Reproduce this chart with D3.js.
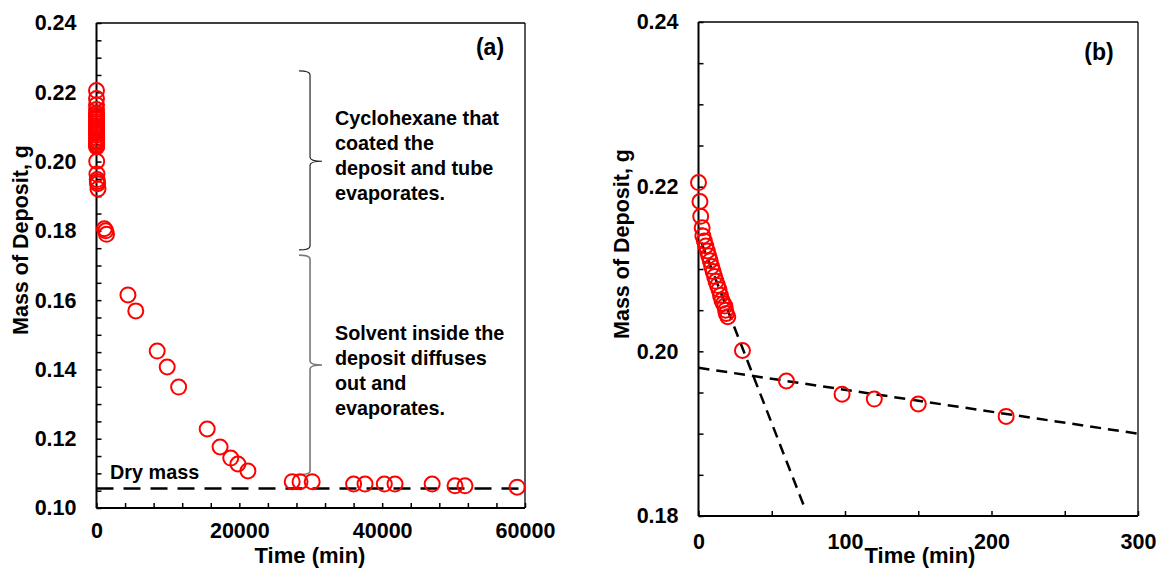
<!DOCTYPE html>
<html><head><meta charset="utf-8">
<script src="https://cdn.jsdelivr.net/npm/d3@7"></script>
<style>
html,body{margin:0;padding:0;background:#fff;}
svg{display:block;font-family:"Liberation Sans",Arial,sans-serif;font-weight:bold;}
</style></head><body>
<svg id="chart" width="1157" height="569"></svg>
<script>
// ---------------- data ----------------
const timeMin = [0, 1, 1.5, 2.5, 3, 4, 5, 6, 7, 8, 9, 10, 11, 12, 13, 14, 15, 16, 17, 18, 18.5, 19, 20,
  30, 60, 98, 120, 150, 210,
  1100, 1300, 1400,
  4400, 5500, 8500, 9900, 11500, 15500, 17300, 18800, 19800, 21200,
  27400, 28500, 30200, 36000, 37600, 40300, 41800, 47000, 50200, 51600, 58900];
const massG = [0.2205, 0.2182, 0.2164, 0.2150, 0.2140, 0.2134, 0.2128, 0.2122, 0.2116, 0.2110, 0.2103, 0.2097, 0.2091, 0.2085, 0.2080, 0.2075, 0.2068, 0.2062, 0.2058, 0.2055, 0.2050, 0.2046, 0.2042,
  0.2001, 0.1964, 0.1948, 0.1942, 0.1936, 0.1921,
  0.1806, 0.1800, 0.1790,
  0.1615, 0.1569, 0.1453, 0.1407, 0.1349, 0.1228, 0.1176, 0.1144, 0.1127, 0.1107,
  0.1076, 0.1076, 0.1076, 0.1069, 0.1069, 0.1069, 0.1069, 0.1069, 0.1064, 0.1064, 0.1060];
const dryMass = 0.1056;
const steepFitTime = [2, 72];
const steepFitMass = [0.2132, 0.1812];
const slowFitTime = [0, 300];
const slowFitMass = [0.1980, 0.1900];
const xLabelsA = [0, 20000, 40000, 60000];
const yLabelsA = [0.10, 0.12, 0.14, 0.16, 0.18, 0.20, 0.22, 0.24];
const xLabelsB = [0, 100, 200, 300];
const yLabelsB = [0.18, 0.20, 0.22, 0.24];
const braceTexts = [
  ["Cyclohexane that", "coated the", "deposit and tube", "evaporates."],
  ["Solvent inside the", "deposit diffuses", "out and", "evaporates."]
];
// brace spans (mass values) : [top, tip, bottom]
const braceSpans = [[0.2262, 0.2001, 0.1745], [0.1730, 0.1413, 0.1095]];
const braceTime = 29900;

const points = timeMin.map((t, i) => ({t, m: massG[i]}));
const svg = d3.select("#chart");

function frame(g, x, y, lw) {
  const [x0, x1] = x.range(), [y0, y1] = y.range();
  g.append("line").attr("x1", x0).attr("x2", x1).attr("y1", y1).attr("y2", y1).attr("stroke", "#000").attr("stroke-width", 1.3);
  g.append("line").attr("x1", x1).attr("x2", x1).attr("y1", y1).attr("y2", y0).attr("stroke", "#000").attr("stroke-width", 1.3);
  g.append("line").attr("x1", x0).attr("x2", x1).attr("y1", y0).attr("y2", y0).attr("stroke", "#000").attr("stroke-width", lw);
  g.append("line").attr("x1", x0).attr("x2", x0).attr("y1", y1).attr("y2", y0).attr("stroke", "#000").attr("stroke-width", lw);
}

function axes(g, x, y, xMinor, yMinor, xLabels, yLabels, yFmt, xPad, yPad) {
  const [x0] = x.range(), [y0] = y.range();
  const ax = g.append("g").attr("transform", `translate(0,${y0})`)
    .call(d3.axisBottom(x).tickValues(xMinor).tickSize(-5).tickFormat(""));
  ax.select(".domain").remove();
  ax.selectAll("line").attr("stroke-width", 1.5);
  const ay = g.append("g").attr("transform", `translate(${x0},0)`)
    .call(d3.axisLeft(y).tickValues(yMinor).tickSize(-5).tickFormat(""));
  ay.select(".domain").remove();
  ay.selectAll("line").attr("stroke-width", 1.5);
  const lx = g.append("g").attr("transform", `translate(0,${y0})`)
    .call(d3.axisBottom(x).tickValues(xLabels).tickSize(0).tickPadding(xPad).tickFormat(d3.format("d")));
  lx.select(".domain").remove();
  lx.selectAll("text").attr("font-size", 21.5).attr("font-weight", "bold").attr("fill", "#000").attr("font-family", "Liberation Sans, Arial, sans-serif");
  const ly = g.append("g").attr("transform", `translate(${x0},0)`)
    .call(d3.axisLeft(y).tickValues(yLabels).tickSize(0).tickPadding(yPad).tickFormat(yFmt));
  ly.select(".domain").remove();
  ly.selectAll("text").attr("font-size", 21.5).attr("font-weight", "bold").attr("fill", "#000").attr("font-family", "Liberation Sans, Arial, sans-serif");
}

function circles(g, data, x, y) {
  g.selectAll("circle.pt").data(data).join("circle").attr("class", "pt")
    .attr("cx", d => x(d.t)).attr("cy", d => y(d.m)).attr("r", 7.5)
    .attr("fill", "none").attr("stroke", "#ff0000").attr("stroke-width", 2);
}

// ---------------- panel (a) ----------------
const xA = d3.scaleLinear().domain([0, 60000]).range([96.5, 525]);
const yA = d3.scaleLinear().domain([0.10, 0.24]).range([508, 23]);
const gA = svg.append("g");
axes(gA, xA, yA, d3.range(0, 60001, 4000), d3.range(0, 29).map(i => 0.10 + i * 0.005),
  xLabelsA, yLabelsA, d3.format(".2f"), 15, 20);
frame(gA, xA, yA, 2);

// dry mass line
gA.append("line").attr("x1", xA(0)).attr("x2", xA(60000)).attr("y1", yA(dryMass)).attr("y2", yA(dryMass))
  .attr("stroke", "#000").attr("stroke-width", 2.5).attr("stroke-dasharray", "17,10");
gA.append("text").attr("x", xA(1900)).attr("y", yA(dryMass) - 10).attr("font-size", 19.8).text("Dry mass");

// braces
braceSpans.forEach((s, i) => {
  const bx = xA(braceTime), yt = yA(s[0]), yc = yA(s[1]), yb = yA(s[2]);
  const p = d3.path();
  p.moveTo(bx - 11, yt);
  p.quadraticCurveTo(bx, yt, bx, yt + 4);
  p.lineTo(bx, yc - 4);
  p.quadraticCurveTo(bx, yc, bx + 12, yc);
  p.quadraticCurveTo(bx, yc, bx, yc + 4);
  p.lineTo(bx, yb - 4);
  p.quadraticCurveTo(bx, yb, bx - (i === 0 ? 11 : 16), yb);
  gA.append("path").attr("d", p.toString()).attr("fill", "none")
    .attr("stroke", i === 0 ? "#222" : "#777").attr("stroke-width", i === 0 ? 1.2 : 1.6);
});
const textTop = [125, 340];
braceTexts.forEach((lines, i) => {
  const t = gA.append("text").attr("x", xA(33400)).attr("y", textTop[i]).attr("font-size", 19.8);
  lines.forEach((l, j) => t.append("tspan").attr("x", xA(33400)).attr("y", textTop[i] + j * 25).text(l));
});

circles(gA, points, xA, yA);

gA.append("text").attr("x", 490).attr("y", 55).attr("text-anchor", "middle").attr("font-size", 23).text("(a)");
gA.append("text").attr("transform", `translate(21,240) rotate(-90)`).attr("text-anchor", "middle")
  .attr("dominant-baseline", "central").attr("font-size", 21.5).text("Mass of Deposit, g");
gA.append("text").attr("x", 310).attr("y", 563).attr("text-anchor", "middle").attr("font-size", 22).text("Time (min)");

// ---------------- panel (b) ----------------
const xB = d3.scaleLinear().domain([0, 300]).range([698.5, 1138]);
const yB = d3.scaleLinear().domain([0.18, 0.24]).range([516, 22]);
const gB = svg.append("g");
axes(gB, xB, yB, d3.range(0, 301, 50), d3.range(0, 13).map(i => 0.18 + i * 0.005),
  xLabelsB, yLabelsB, d3.format(".2f"), 18, 20);
frame(gB, xB, yB, 2);

const line = d3.line().x(d => xB(d[0])).y(d => yB(d[1]));
gB.append("path").attr("d", line(steepFitTime.map((t, i) => [t, steepFitMass[i]])))
  .attr("fill", "none").attr("stroke", "#000").attr("stroke-width", 2.5).attr("stroke-dasharray", "11,7");
gB.append("path").attr("d", line(slowFitTime.map((t, i) => [t, slowFitMass[i]])))
  .attr("fill", "none").attr("stroke", "#000").attr("stroke-width", 2.5).attr("stroke-dasharray", "11,7");

circles(gB, points.filter(d => d.t <= 300), xB, yB);

gB.append("text").attr("x", 1099).attr("y", 60).attr("text-anchor", "middle").attr("font-size", 23).text("(b)");
gB.append("text").attr("transform", `translate(622,244) rotate(-90)`).attr("text-anchor", "middle")
  .attr("dominant-baseline", "central").attr("font-size", 21.5).text("Mass of Deposit, g");
gB.append("text").attr("x", 920).attr("y", 563).attr("text-anchor", "middle").attr("font-size", 22).text("Time (min)");
</script>
</body></html>
